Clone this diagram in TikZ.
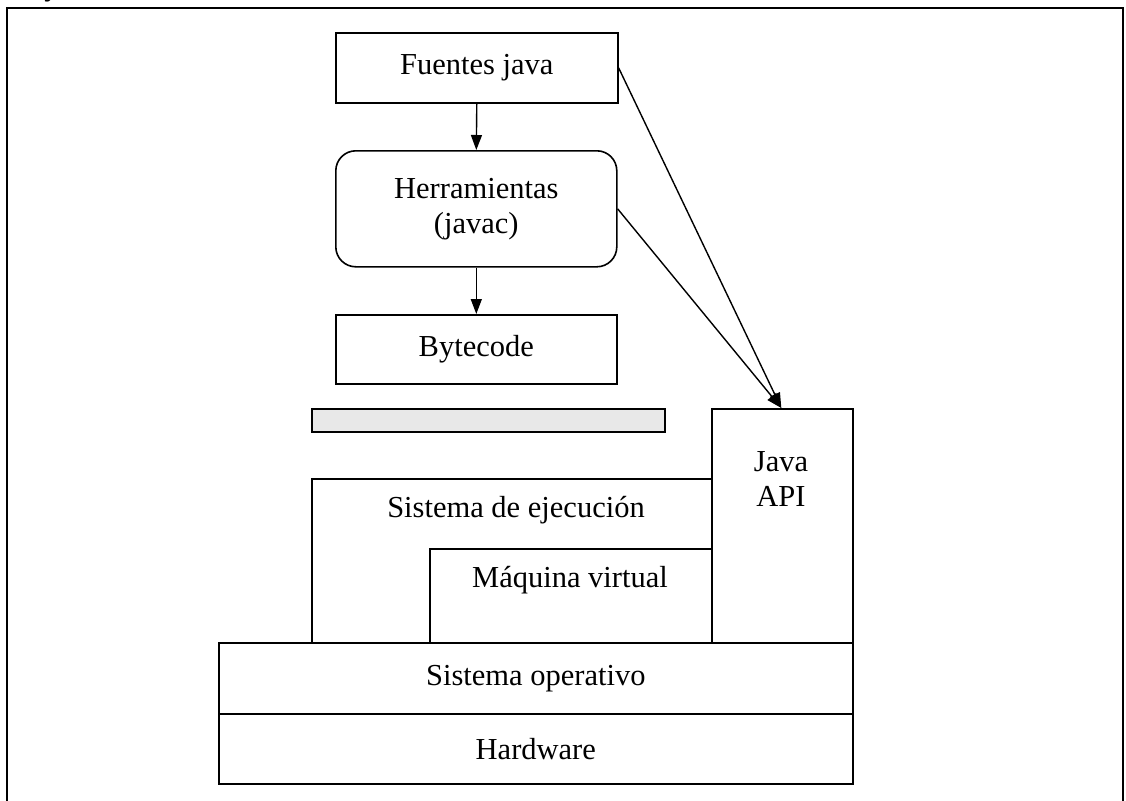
\documentclass[tikz,border=0pt]{standalone}
\usepackage{fontspec}
\setmainfont{Liberation Serif}
\usetikzlibrary{arrows.meta}
\begin{document}
\begin{tikzpicture}[x=1pt,y=-1pt,
  box/.style={draw,line width=1.6pt,inner sep=0pt,anchor=north west,fill=white},
  txt/.style={inner sep=0pt,font=\fontsize{30.5}{35}\selectfont,align=center},
  conn/.style={line width=1.4pt,-{Triangle[length=15pt,width=11pt]}}]
\useasboundingbox (0,0) rectangle (1126,800);
\node[txt,anchor=base] (ycut) at (52,-4) {y};
\draw[line width=2pt] (7,815) -- (7,8.5) -- (1123,8.5) -- (1123,815);
% top nodes
\node[box,minimum width=282pt,minimum height=70pt,txt] (fuentes) at (335,32) {Fuentes java};
\node[box,minimum width=281pt,minimum height=116pt,rounded corners=20pt,txt] (herr) at (335,150) {Herramientas\\(javac)};
\node[box,minimum width=281pt,minimum height=69pt,txt] (byte) at (335,314) {Bytecode};
\node[box,minimum width=353pt,minimum height=23pt,fill=black!9] (bar) at (311,408) {};
% platform stack
\node[box,minimum width=400pt,minimum height=164pt] (sisej) at (311,478) {};
\node[txt] (sisejt) at (516,510) {Sistema de ejecución};
\node[box,minimum width=282pt,minimum height=94pt] (maq) at (429,548) {};
\node[txt] (maqt) at (570,580) {Máquina virtual};
\node[box,minimum width=141pt,minimum height=234pt] (api) at (711,408) {};
\node[txt] (apit) at (781,479) {Java\\API};
\node[box,minimum width=634pt,minimum height=71pt,txt] (so) at (218,642) {Sistema operativo};
\node[box,minimum width=634pt,minimum height=70pt,txt] (hw) at (218,713) {Hardware};
% connectors
\draw[conn] (fuentes.south) -- (herr.north);
\draw[conn] (herr.south) -- (byte.north);
\draw[conn] (fuentes.east) -- ([xshift=-1pt]api.north);
\draw[conn] (herr.east) -- ([xshift=-1pt]api.north);
\end{tikzpicture}
\end{document}
